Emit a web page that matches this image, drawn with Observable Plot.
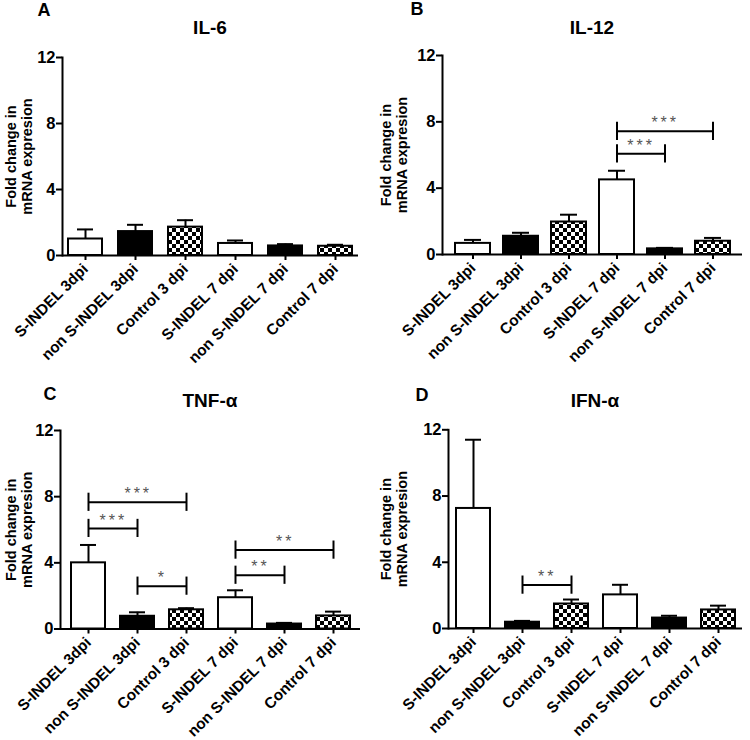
<!DOCTYPE html>
<html><head><meta charset="utf-8">
<script src="https://cdn.jsdelivr.net/npm/d3@7"></script>
<script src="https://cdn.jsdelivr.net/npm/@observablehq/plot@0.6"></script>
<style>
body{margin:0;background:#fff;}
#fig{position:relative;width:750px;height:740px;background:#fff;font-family:"Liberation Sans",Arial,sans-serif;color:#000;overflow:hidden;}
.panel{position:absolute;width:375px;}
.panel svg{position:absolute;left:0;top:0;overflow:visible;}
.letter{position:absolute;font-weight:bold;font-size:18px;line-height:1;transform:translate(-50%,-50%);}
.title{position:absolute;font-weight:bold;font-size:19px;text-align:center;line-height:1;transform:translateY(-50%);}
</style></head><body><div id="fig"></div>
<script>
// ---- data ----
const categories = ["S-INDEL 3dpi","non S-INDEL 3dpi","Control 3 dpi","S-INDEL 7 dpi","non S-INDEL 7 dpi","Control 7 dpi"];
const panelLetters = ["A","B","C","D"];
const panelTitles = ["IL-6","IL-12","TNF-α","IFN-α"];
const yTicks = [0,4,8,12];
const yLabel = "Fold change in\nmRNA expresion";

const il6Mean  = [1.00, 1.45, 1.72, 0.73, 0.58, 0.56];
const il6Err   = [0.58, 0.41, 0.42, 0.18, 0.11, 0.09];
const il12Mean = [0.67, 1.10, 1.96, 4.50, 0.34, 0.80];
const il12Err  = [0.21, 0.21, 0.44, 0.55, 0.06, 0.20];
const tnfMean  = [4.00, 0.77, 1.16, 1.89, 0.30, 0.79];
const tnfErr   = [1.08, 0.24, 0.10, 0.45, 0.07, 0.26];
const ifnMean  = [7.25, 0.38, 1.48, 2.03, 0.63, 1.12];
const ifnErr   = [4.15, 0.08, 0.27, 0.61, 0.14, 0.26];

const il6Brackets = [];
const il12Brackets = [
  {from:"S-INDEL 7 dpi", to:"non S-INDEL 7 dpi", h:6.07, label:"***"},
  {from:"S-INDEL 7 dpi", to:"Control 7 dpi", h:7.43, label:"***"}
];
const tnfBrackets = [
  {from:"S-INDEL 3dpi", to:"non S-INDEL 3dpi", h:6.08, label:"***"},
  {from:"S-INDEL 3dpi", to:"Control 3 dpi", h:7.66, label:"***"},
  {from:"non S-INDEL 3dpi", to:"Control 3 dpi", h:2.59, label:"*"},
  {from:"S-INDEL 7 dpi", to:"non S-INDEL 7 dpi", h:3.25, label:"**"},
  {from:"S-INDEL 7 dpi", to:"Control 7 dpi", h:4.77, label:"**"}
];
const ifnBrackets = [
  {from:"non S-INDEL 3dpi", to:"Control 3 dpi", h:2.62, label:"**"}
];

// ---- layout / style (not data) ----
const layout = [
  {left:0,   top:0,   h:373, mL:62, mR:17, mT:57, mB:118, pi:0.32, po:0.12, lx:44, ly:10},
  {left:375, top:0,   h:373, mL:67, mR:8,  mT:55, mB:119, pi:0.28, po:0.25, lx:42, ly:9},
  {left:0,   top:373, h:367, mL:60, mR:15, mT:57, mB:111.5, pi:0.31, po:0.17, lx:50, ly:21},
  {left:375, top:373, h:367, mL:73, mR:8,  mT:56.3, mB:112, pi:0.31, po:0.13, lx:47, ly:22}
];
const kindOf = c => c.startsWith("non") ? "solid" : c.startsWith("Control") ? "checker" : "open";
const tickHalf = 0.55;

const fig = document.getElementById("fig");

function panel(i, means, errs, brackets) {
  const L = layout[i];
  const W = 375;
  const data = categories.map((c,k)=>({cat:c, mean:means[k], top:means[k]+errs[k], kind:kindOf(c)}));
  const xs = Plot.scale({x:{type:"band", domain:categories, range:[L.mL, W-L.mR], paddingInner:L.pi, paddingOuter:L.po}});
  const br = brackets.map(b=>({...b, dx:(xs.apply(b.to)-xs.apply(b.from))/2}));
  const ends = br.flatMap(b=>[{cat:b.from,h:b.h},{cat:b.to,h:b.h}]);
  const svg = Plot.plot({
    width:W, height:L.h,
    marginLeft:L.mL, marginRight:L.mR, marginTop:L.mT, marginBottom:L.mB,
    style:{fontFamily:"'Liberation Sans', Arial, sans-serif", fontSize:"15px", fontWeight:"bold", color:"black", background:"transparent", overflow:"visible"},
    x:{type:"band", domain:categories, paddingInner:L.pi, paddingOuter:L.po},
    y:{domain:[0,12]},
    color:{type:"ordinal", domain:["open","solid","checker"], range:["white","black","url(#chk)"]},
    marks:[
      Plot.barY(data,{x:"cat", y:"mean", fill:"kind", stroke:"black", strokeWidth:2}),
      Plot.ruleX(data,{x:"cat", y1:"mean", y2:"top", stroke:"black", strokeWidth:2}),
      Plot.tickY(data,{x:"cat", y:"top", insetLeft:9, insetRight:9, stroke:"black", strokeWidth:2}),
      Plot.link(br,{x1:"from", x2:"to", y1:"h", y2:"h", stroke:"black", strokeWidth:2}),
      Plot.ruleX(ends,{x:"cat", y1:d=>d.h-tickHalf, y2:d=>d.h+tickHalf, stroke:"black", strokeWidth:2}),
      ...br.map(b=>Plot.text([b],{x:"from", y:"h", text:"label", dx:b.dx, dy:-8, fontSize:16, fontWeight:"normal", fill:"#555", textAnchor:"middle", lineAnchor:"middle"})),
      Plot.frame({anchor:"left", stroke:"black", strokeWidth:2}),
      Plot.ruleY([0],{stroke:"black", strokeWidth:2}),
      Plot.axisY({ticks:yTicks, tickSize:6, tickPadding:1, strokeWidth:2, fontSize:16.5, fontWeight:"bold", label:null}),
      Plot.axisX({tickRotate:-45, tickSize:5, tickPadding:6, strokeWidth:2, fontSize:15.3, fontWeight:"bold", label:null}),
      Plot.text([yLabel],{frameAnchor:"left", text:d=>d, rotate:-90, textAnchor:"middle", lineAnchor:"middle", dx:-(L.mL-18), fontSize:14.5, fontWeight:"bold", lineHeight:1.1})
    ]
  });
  const defs = d3.select(svg).insert("defs", ":first-child");
  const p = defs.append("pattern").attr("id","chk").attr("patternUnits","userSpaceOnUse").attr("width",8).attr("height",8);
  p.append("rect").attr("width",8).attr("height",8).attr("fill","white");
  p.append("rect").attr("width",4).attr("height",4).attr("fill","black");
  p.append("rect").attr("x",4).attr("y",4).attr("width",4).attr("height",4).attr("fill","black");
  svg.querySelectorAll("text").forEach(t=>{ if(/^\*+$/.test(t.textContent.trim())) t.style.letterSpacing="3px"; });

  const div = document.createElement("div");
  div.className = "panel";
  div.style.left = L.left+"px"; div.style.top = L.top+"px"; div.style.height = L.h+"px";
  div.appendChild(svg);
  const let_ = document.createElement("div");
  let_.className = "letter"; let_.textContent = panelLetters[i];
  let_.style.left = L.lx+"px"; let_.style.top = L.ly+"px";
  div.appendChild(let_);
  const ti = document.createElement("div");
  ti.className = "title"; ti.textContent = panelTitles[i];
  ti.style.left = L.mL+"px"; ti.style.width = (W-L.mL-L.mR)+"px"; ti.style.top = "27px";
  div.appendChild(ti);
  fig.appendChild(div);
}

panel(0, il6Mean, il6Err, il6Brackets);
panel(1, il12Mean, il12Err, il12Brackets);
panel(2, tnfMean, tnfErr, tnfBrackets);
panel(3, ifnMean, ifnErr, ifnBrackets);
</script></body></html>
